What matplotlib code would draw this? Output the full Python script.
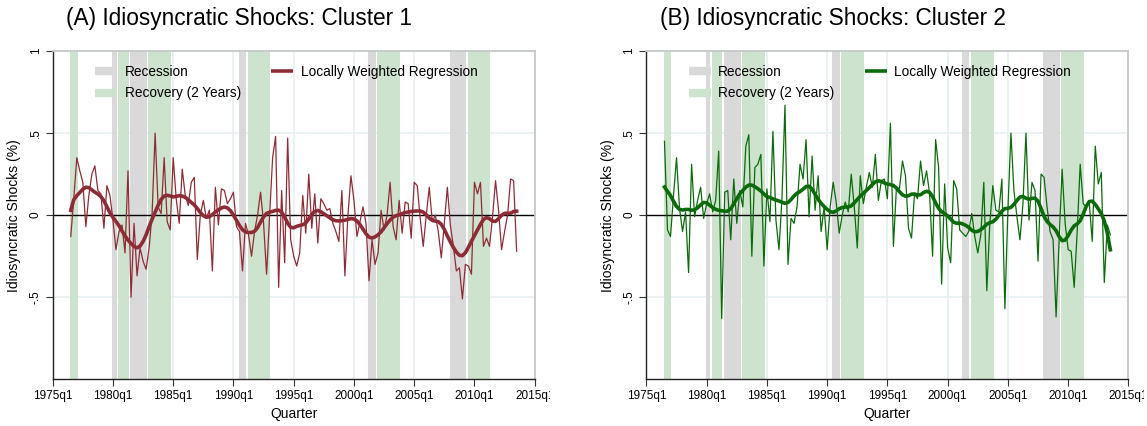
import numpy as np
import matplotlib.pyplot as plt
from matplotlib.lines import Line2D
from matplotlib.transforms import Bbox

plt.rcParams['font.family'] = ['Liberation Sans', 'DejaVu Sans']

# quarterly idiosyncratic shocks, 1976q3 .. 2013q3
start_year = 1976.5
shocks_c1 = [
    -0.13, 0.10, 0.35, 0.27, 0.20, -0.07, 0.12, 0.25, 0.30, 0.15,
    0.13, -0.08, 0.18, 0.12, -0.03, -0.21, -0.10, -0.06, -0.23, 0.27,
    -0.50, -0.05, -0.37, -0.20, -0.28, -0.33, -0.20, 0.01, 0.50, 0.05,
    0.01, 0.35, -0.04, -0.09, 0.35, 0.10, -0.05, 0.28, 0.12, 0.06,
    0.20, 0.23, -0.27, 0.00, 0.09, -0.02, 0.03, -0.34, 0.17, -0.06,
    0.16, 0.15, 0.07, 0.10, 0.14, -0.07, -0.10, -0.34, -0.05, -0.12,
    -0.25, -0.10, 0.00, 0.14, -0.05, -0.36, 0.00, 0.35, 0.48, -0.44,
    0.15, -0.29, 0.47, -0.15, -0.25, -0.31, -0.23, 0.12, -0.11, 0.25,
    -0.08, 0.13, -0.17, 0.10, 0.07, 0.03, 0.04, -0.05, -0.10, -0.16,
    0.15, -0.37, 0.00, 0.24, 0.09, -0.13, -0.04, 0.05, -0.05, -0.40,
    -0.15, -0.30, -0.23, 0.03, -0.09, 0.00, 0.20, -0.07, -0.15, 0.09,
    -0.11, 0.08, 0.07, -0.14, 0.20, 0.18, -0.02, -0.19, 0.00, 0.17,
    -0.04, 0.00, -0.10, -0.26, -0.05, 0.17, -0.06, -0.19, -0.34, -0.32,
    -0.51, -0.30, -0.31, -0.36, 0.20, 0.13, 0.20, -0.19, -0.14, -0.19,
    -0.01, 0.21, 0.03, -0.21, -0.10, 0.00, 0.22, 0.21, -0.22,
]
shocks_c2 = [
    0.45, -0.09, -0.13, 0.12, 0.35, 0.04, -0.10, 0.02, -0.35, 0.31,
    -0.01, 0.09, 0.17, -0.02, 0.07, 0.13, 0.02, 0.09, 0.39, -0.63,
    0.14, 0.15, -0.15, 0.22, -0.05, 0.15, 0.05, 0.42, 0.49, -0.25,
    0.29, 0.31, 0.37, -0.31, 0.16, -0.04, 0.51, -0.03, -0.21, 0.10,
    0.67, -0.30, -0.02, -0.05, 0.05, 0.31, 0.22, 0.46, -0.01, 0.36,
    0.03, 0.24, -0.10, 0.05, -0.21, 0.05, 0.20, 0.08, -0.11, 0.00,
    0.08, 0.02, 0.25, 0.05, -0.20, 0.24, 0.07, 0.17, 0.26, 0.17,
    0.37, 0.09, 0.21, 0.22, 0.10, 0.56, -0.19, 0.17, 0.16, 0.33,
    0.24, -0.08, -0.14, 0.13, 0.10, 0.33, 0.18, 0.27, 0.13, -0.25,
    0.46, 0.29, -0.42, 0.19, -0.20, -0.29, 0.21, 0.16, -0.09, -0.11,
    -0.13, -0.10, 0.01, -0.13, -0.23, -0.12, 0.20, -0.46, -0.05, 0.18,
    0.03, 0.02, 0.22, -0.57, 0.03, 0.50, 0.15, -0.01, -0.15, 0.07,
    0.50, -0.03, 0.20, 0.15, -0.28, 0.25, 0.23, 0.05, -0.10, -0.15,
    -0.62, -0.15, 0.28, -0.05, -0.21, -0.22, -0.44, -0.10, 0.31, 0.07,
    0.05, 0.08, -0.16, 0.42, 0.19, 0.26, -0.41, -0.06, -0.12,
]

# shaded periods (first quarter, last quarter)
recessions = [("1980q1", "1980q2"), ("1981q3", "1982q4"), ("1990q3", "1991q1"),
              ("2001q2", "2001q4"), ("2008q1", "2009q2")]
recoveries = [("1976q3", "1977q1"), ("1980q3", "1981q2"), ("1983q1", "1984q4"),
              ("1991q2", "1993q1"), ("2002q1", "2003q4"), ("2009q3", "2011q2")]

xtick_years = [1975, 1980, 1985, 1990, 1995, 2000, 2005, 2010, 2015]
ytick_vals = [-0.5, 0, 0.5, 1]
ytick_labels = ["-.5", "0", ".5", "1"]


def qdate(s):
    y, q = s.split("q")
    return int(y) + (int(q) - 1) / 4


def lowess(x, y, bw):
    # running-line smoother with tricube weights (Stata style)
    n = len(x)
    k = int(np.floor((n * bw - 0.5) / 2))
    fit = np.empty(n)
    for i in range(n):
        lo, hi = max(0, i - k), min(n - 1, i + k)
        xs, ys = x[lo:hi + 1], y[lo:hi + 1]
        delta = 1.0001 * max(x[hi] - x[i], x[i] - x[lo])
        w = (1 - (np.abs(xs - x[i]) / delta) ** 3) ** 3
        xm = np.sum(w * xs) / np.sum(w)
        ym = np.sum(w * ys) / np.sum(w)
        b = np.sum(w * (xs - xm) * (ys - ym)) / np.sum(w * (xs - xm) ** 2)
        fit[i] = ym + b * (x[i] - xm)
    return fit


W, H = 1147, 426
fig = plt.figure(figsize=(W / 100, H / 100), dpi=100)

panels = [
    ("(A) Idiosyncratic Shocks: Cluster 1", shocks_c1, "#8e2c36", 52.7, 550),
    ("(B) Idiosyncratic Shocks: Cluster 2", shocks_c2, "#0b6b0b", 646.4, 1144),
]

band_pad = 0.06
grid_col = "#e8f0f1"

for title, vals, col, left_px, clip_px in panels:
    ax = fig.add_axes([left_px / W, 46.7 / H, 482 / W, 328.3 / H])
    y = np.array(vals)
    x = start_year + 0.25 * np.arange(len(y))

    for a, b in recessions:
        ax.axvspan(qdate(a) - band_pad, qdate(b) + band_pad, color="#d9d9d9", lw=0, zorder=1)
    for a, b in recoveries:
        ax.axvspan(qdate(a) - band_pad, qdate(b) + band_pad, color="#cde3cd", lw=0, zorder=1)

    for yr in xtick_years[1:-1]:
        ax.axvline(yr, color=grid_col, lw=1.2, zorder=0.5)
    for v in [-0.5, 0.5]:
        ax.axhline(v, color=grid_col, lw=1.2, zorder=0.5)

    ax.axhline(0, color="black", lw=1.0, zorder=2)
    ax.plot(x, y, color=col, lw=0.9, zorder=3)
    ax.plot(x, lowess(x, y, 0.1), color=col, lw=2.6, zorder=4)

    ax.set_xlim(1975, 2015)
    ax.set_ylim(-1, 1)
    ax.set_xticks(xtick_years)
    ax.set_xticklabels([f"{yr}q1" for yr in xtick_years], fontsize=8.5)
    ax.set_yticks(ytick_vals)
    ax.set_yticklabels(ytick_labels, fontsize=8.5, rotation=90, va="center")
    ax.tick_params(direction="out", length=5, width=0.8, color="#333333", pad=3)

    # the last date label runs past the edge of its panel and is cut off
    last = ax.get_xticklabels()[-1]
    last.set_clip_box(Bbox([[0, 0], [clip_px, H]]))
    last.set_clip_on(True)

    for side in ["left", "bottom"]:
        ax.spines[side].set_color("#222222")
        ax.spines[side].set_linewidth(1.0)
    for side in ["top", "right"]:
        ax.spines[side].set_color("#c4c8c8")
        ax.spines[side].set_linewidth(1.3)

    ax.set_xlabel("Quarter", fontsize=10, labelpad=3)
    ax.set_ylabel("Idiosyncratic Shocks (%)", fontsize=10, labelpad=6)
    ax.text(0.387, 1.1, title, transform=ax.transAxes, fontsize=16.3,
            ha="center", va="center")

    handles = [
        Line2D([], [], color="#d9d9d9", lw=6, solid_capstyle="butt"),
        Line2D([], [], color="#cde3cd", lw=6, solid_capstyle="butt"),
        Line2D([], [], color=col, lw=2.6, solid_capstyle="butt"),
    ]
    labels = ["Recession", "Recovery (2 Years)", "Locally Weighted Regression"]
    ax.legend(handles, labels, loc="upper left", bbox_to_anchor=(0.063, 0.995),
              ncol=2, frameon=False, fontsize=9.8, handlelength=1.6,
              handletextpad=0.55, columnspacing=2.25, labelspacing=0.55)

fig.savefig("out.png", dpi=100)
